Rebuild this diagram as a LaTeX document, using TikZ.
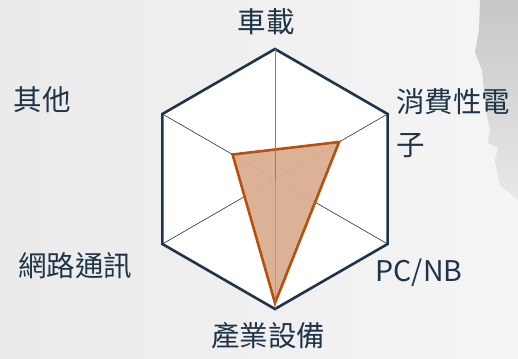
\documentclass[tikz,border=0pt]{standalone}
\usepackage{fontspec}
\setmainfont{Noto Sans CJK TC}
\usepackage{tikz}

\definecolor{navy}{HTML}{1F3447}
\definecolor{rust}{HTML}{B5500F}
\definecolor{tan}{HTML}{DBAE92}

\begin{document}
\begin{tikzpicture}[x=1pt,y=-1pt,
  frame/.style={draw=navy,line width=2.6pt,line join=miter,fill=white},
  spoke/.style={draw=navy,line width=0.6pt},
  data/.style={draw=rust,line width=2.6pt,line join=miter,fill=tan,fill opacity=0.95},
  lab/.style={text=navy,font=\fontsize{28.5}{43}\selectfont,inner sep=0pt}]
% background
\shade[left color=black!8,right color=black!4] (0,0) rectangle (518,358);
\useasboundingbox (0,0) rectangle (518,358);
\shade[top color=black!22,bottom color=black!9]
  (480,0) -- (479,30) -- (475,52) -- (482,70) -- (486,110) -- (490,130)
  -- (488,143) -- (498,148) -- (495,160) -- (500,185) -- (518,200) -- (518,0) -- cycle;
% axes
\coordinate (c) at (275,179);
\foreach \n/\a in {car/-90,cons/-30,pc/30,ind/90,net/150,oth/210}
  \coordinate (\n) at ([shift={(\a:130)}]c);
\path[frame] (car) -- (cons) -- (pc) -- (ind) -- (net) -- (oth) -- cycle;
\draw[spoke] (oth) -- (pc);
\draw[spoke] (cons) -- (net);
% values
\coordinate (voth) at ([shift={(210:49)}]c);
\coordinate (vcons) at ([shift={(-30:74)}]c);
\coordinate (vind) at ([shift={(90:124)}]c);
\path[data] (voth) -- (vcons) -- (vind) -- cycle;
\draw[black!50,line width=1pt] (car) -- (c);
\draw[black!45,line width=1pt,opacity=0.6] (c) -- (ind);
% labels
\node[lab] (lcar) at (266,22) {車載};
\node[lab] (loth) at (42,100) {其他};
\node[lab,anchor=west,align=left] (lcons) at (396,123) {消費性電\\子};
\node[lab] (lpc) at (419,273) {PC/NB};
\node[lab] (lind) at (268,336) {產業設備};
\node[lab] (lnet) at (75,266) {網路通訊};
\end{tikzpicture}
\end{document}
